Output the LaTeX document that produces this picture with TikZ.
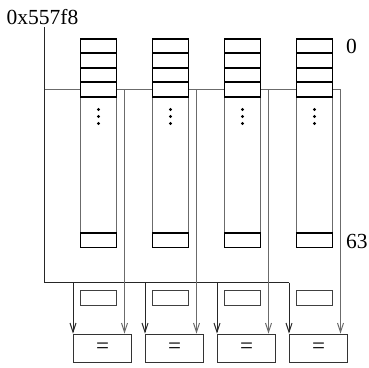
\documentclass[tikz,border=0pt]{standalone}
\usepackage{fontspec}
\setmainfont{Liberation Serif}
\usetikzlibrary{arrows.meta}
\definecolor{wiregray}{gray}{0.42}
\definecolor{busgray}{gray}{0.15}
\tikzset{
  wire/.style={draw=wiregray, line width=1.3pt},
  bus/.style={draw=busgray, line width=1pt},
  arr/.style={-{Straight Barb[length=9pt,width=6pt,line width=1pt]}},
  colbody/.style={draw=wiregray, fill=white, line width=1.1pt, minimum width=36pt, minimum height=208.6pt, inner sep=0pt},
  cell/.style={draw=black, line width=1.6pt, minimum width=36pt, minimum height=14.5pt, inner sep=0pt},
  slot/.style={draw=black!75, line width=1pt, minimum width=36pt, minimum height=15pt, inner sep=0pt},
  cmpbox/.style={draw=black!80, line width=1pt, minimum width=58pt, minimum height=28.7pt, inner sep=0pt,
                 font=\fontsize{23}{26}\selectfont},
  dotmark/.style={circle, fill=black, inner sep=0pt, minimum size=3.2pt},
  lbl/.style={font=\fontsize{21.5}{25}\selectfont, inner sep=0pt}
}
\begin{document}
\begin{tikzpicture}[x=1pt,y=-1pt]
\useasboundingbox (0,0) rectangle (369,367);

% address label and the bus lines it feeds
\node[lbl, anchor=base] (addr) at (42.5,24) {0x557f8};
\coordinate (p0) at (44.5,27);
\coordinate (p1) at (44.5,89.5);
\coordinate (p2) at (44.5,282.5);
\foreach \i in {0,...,3} {
  \coordinate (t\i) at ({124.5+72*\i},89.5);
}
\draw[bus] (p0) -- (p2);
\draw[wire] (p1) -- (t3);

% comparator boxes
\foreach \i in {0,...,3} {
  \node[cmpbox] (box\i) at ({102.5+72*\i},348.5) {\raisebox{-2pt}{=}};
}
\draw[bus] (p2) -- (p2 -| box3.west);
\foreach \i in {0,...,3} {
  \draw[bus, arr] (box\i.north west |- p2) -- (box\i.north west);
  \draw[wire, arr] (t\i) -- (t\i |- box\i.north);
}

% the four tag columns
\foreach \i in {0,...,3} {
  \pgfmathsetmacro{\cx}{98.5+72*\i}
  \node[colbody] (col\i) at (\cx,143) {};
  \foreach \k in {0,...,3} {
    \node[cell] (c\i\k) at (\cx,{45.95+14.5*\k}) {};
  }
  \node[cell, minimum height=14.3pt] (last\i) at (\cx,240.15) {};
  \node[dotmark] (da\i) at (\cx,109.5) {};
  \node[dotmark] (db\i) at (\cx,116.5) {};
  \node[dotmark] (dc\i) at (\cx,123.5) {};
  \node[slot] (slot\i) at (\cx,297.8) {};
}

% row indices
\node[lbl, anchor=base west] (first) at (346,53) {0};
\node[lbl, anchor=base west] (lastidx) at (346,248) {63};
\end{tikzpicture}
\end{document}
